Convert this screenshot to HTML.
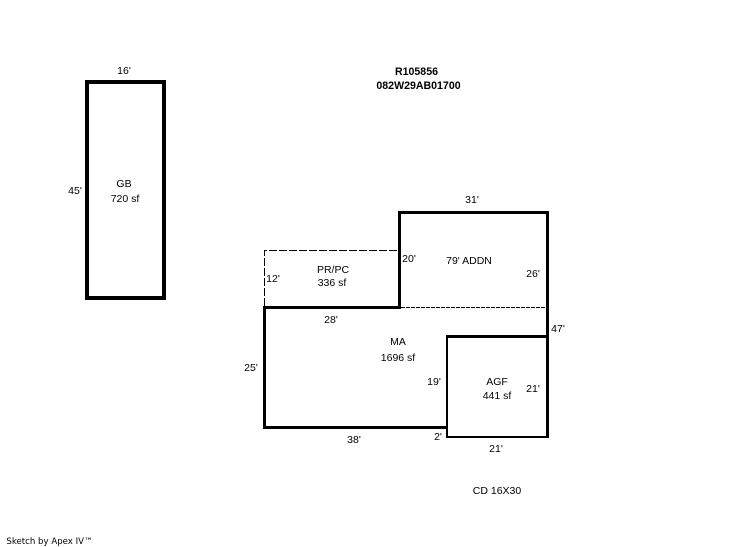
<!DOCTYPE html>
<html><head><meta charset="utf-8"><style>
html,body{margin:0;padding:0;background:#fff;width:746px;height:547px;overflow:hidden}
svg{display:block}
text{font-family:"Liberation Sans",Arial,sans-serif;font-size:10.5px;fill:#000;text-anchor:middle}
</style></head><body>
<svg width="746" height="547" viewBox="0 0 746 547" xmlns="http://www.w3.org/2000/svg">
<g fill="#000" shape-rendering="crispEdges">
<path fill-rule="evenodd" d="M85 80H166V300H85ZM89 84V296H162V84Z"/>
<rect x="263" y="306" width="3" height="123"/>
<rect x="263" y="306" width="138" height="3"/>
<rect x="398" y="211" width="3" height="98"/>
<rect x="398" y="211" width="151" height="3"/>
<rect x="546" y="211" width="3" height="227"/>
<rect x="446" y="335" width="103" height="3"/>
<rect x="263" y="426" width="185" height="3"/>
<rect x="446" y="335" width="2" height="103"/>
<rect x="446" y="436" width="103" height="2"/>
</g>
<g fill="none" stroke="#000" stroke-width="1" shape-rendering="crispEdges">
<path d="M264.5 306V250.5H398" stroke-dasharray="8 2"/>
<path d="M401 307.5H546" stroke-dasharray="4 1"/>
</g>
<text x="124" y="74">16'</text>
<text x="75" y="194">45'</text>
<text x="124" y="187">GB</text>
<text x="125" y="202">720 sf</text>
<text x="416.5" y="75" style="font-weight:bold;font-size:10.6px">R105856</text>
<text x="418.5" y="89" style="font-weight:bold;font-size:10.6px">082W29AB01700</text>
<text x="472" y="203">31'</text>
<text x="409" y="262">20'</text>
<text x="469" y="264">79' ADDN</text>
<text x="533" y="277">26'</text>
<text x="333" y="273">PR/PC</text>
<text x="332" y="286">336 sf</text>
<text x="273" y="282">12'</text>
<text x="331" y="323">28'</text>
<text x="558" y="332">47'</text>
<text x="398" y="345">MA</text>
<text x="398" y="361">1696 sf</text>
<text x="251" y="371">25'</text>
<text x="434" y="385">19'</text>
<text x="497" y="385">AGF</text>
<text x="497" y="399">441 sf</text>
<text x="533" y="392">21'</text>
<text x="354" y="443">38'</text>
<text x="438" y="440">2'</text>
<text x="496" y="452">21'</text>
<text x="497" y="494">CD 16X30</text>
<text x="49.5" y="544" style="font-family:'DejaVu Sans',sans-serif;font-size:8.6px">Sketch by Apex IV™</text>
</svg>
</body></html>
